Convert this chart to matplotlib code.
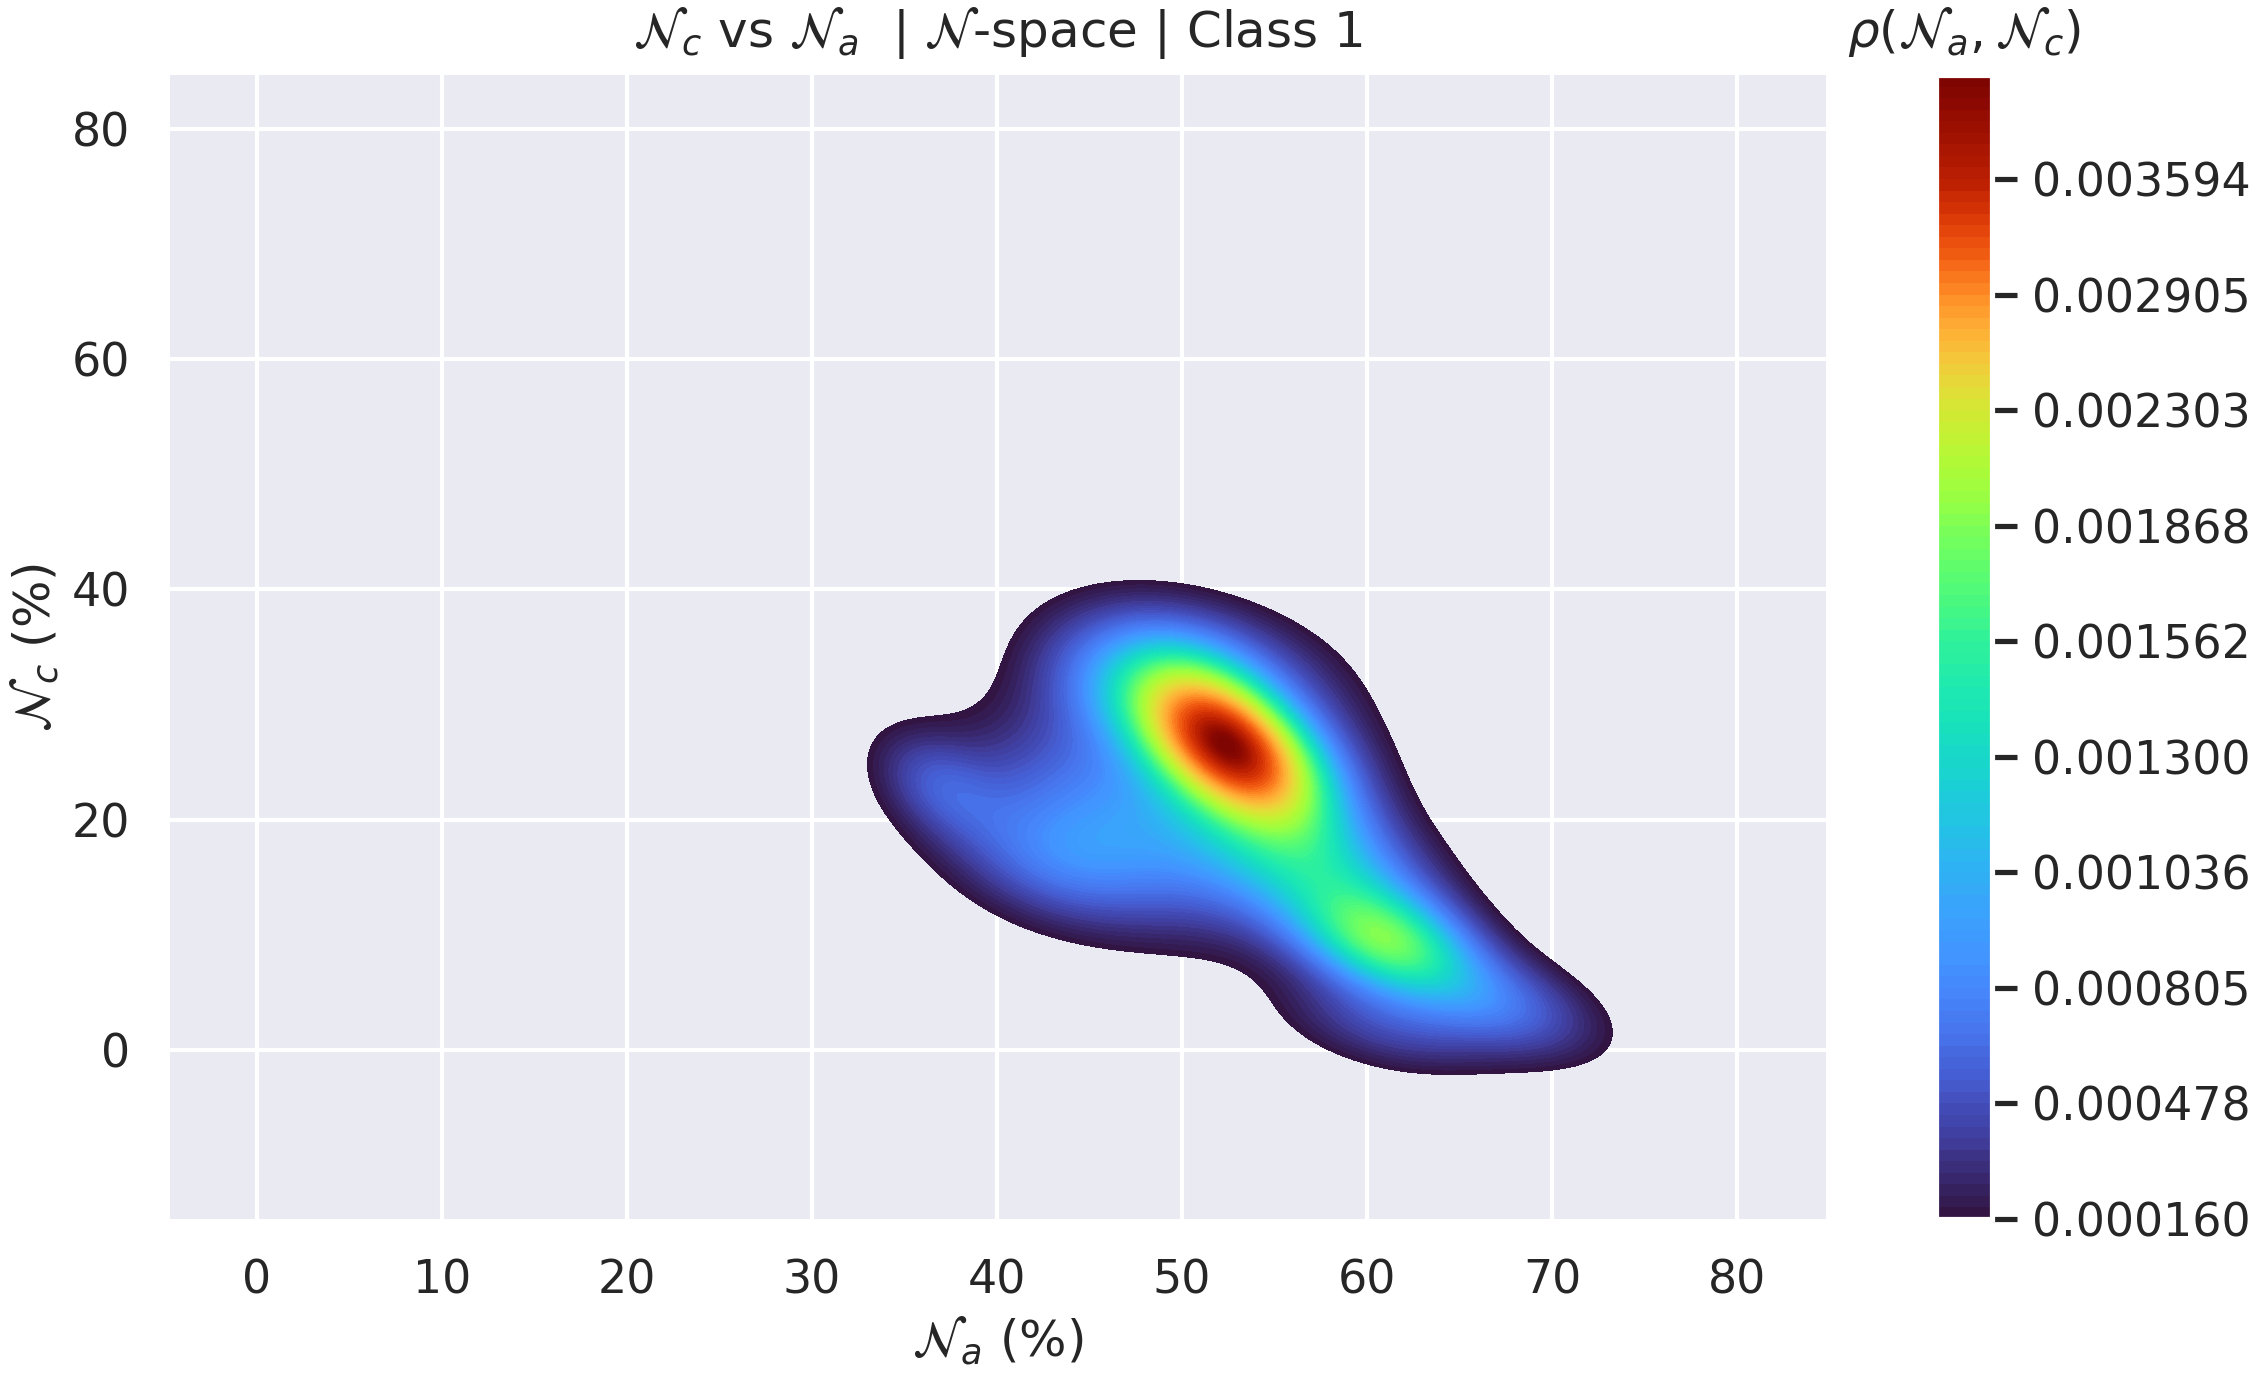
import numpy as np
import matplotlib
matplotlib.use("Agg")
import matplotlib.pyplot as plt
from matplotlib.ticker import FormatStrFormatter

# ---- data ----
# Gaussian mixture summary of the density: centres (N_a, N_c), spreads, correlation, weight
comp_x = [52.5, 47.5, 61.0, 66.5, 36.8, 51.0, 43.0, 57.5, 61.0, 46.0, 58.5]
comp_y = [26.5, 19.5, 9.5, 4.5, 23.0, 34.0, 16.0, 15.5, 2.0, 31.0, 25.0]
comp_sx = [3.3, 6.5, 3.2, 4.0, 2.3, 4.5, 3.5, 4.0, 4.0, 3.2, 2.8]
comp_sy = [4.6, 6.0, 3.2, 3.5, 3.2, 4.0, 3.5, 4.0, 3.0, 4.2, 5.5]
comp_rho = [-0.5, -0.3, -0.3, -0.5, -0.4, -0.3, -0.3, -0.3, -0.4, -0.3, -0.3]
comp_w = [0.29, 0.20, 0.085, 0.05, 0.015, 0.055, 0.022, 0.08, 0.025, 0.036, 0.02]

# colorbar tick values (every 10th contour level)
tick_values = [0.000160, 0.000478, 0.000805, 0.001036, 0.001300,
               0.001562, 0.001868, 0.002303, 0.002905, 0.003594]

x_ticks = [0, 10, 20, 30, 40, 50, 60, 70, 80]
y_ticks = [0, 20, 40, 60, 80]

title = r"$\mathcal{N}_c$ vs $\mathcal{N}_a$  | $\mathcal{N}$-space | Class 1"
xlabel = r"$\mathcal{N}_a$ (%)"
ylabel = r"$\mathcal{N}_c$ (%)"
cbar_title = r"$\rho(\mathcal{N}_a, \mathcal{N}_c)$"

# ---- density on a grid ----
gx = np.linspace(20, 85, 400)
gy = np.linspace(-15, 55, 400)
X, Y = np.meshgrid(gx, gy)
Z = np.zeros_like(X)
for mx, my, sx, sy, r, w in zip(comp_x, comp_y, comp_sx, comp_sy, comp_rho, comp_w):
    dx = (X - mx) / sx
    dy = (Y - my) / sy
    q = (dx**2 - 2 * r * dx * dy + dy**2) / (1 - r**2)
    Z += w * np.exp(-0.5 * q) / (2 * np.pi * sx * sy * np.sqrt(1 - r**2))

zmax = max(Z.max(), tick_values[-1] * 1.05)
levels = np.concatenate(
    [np.linspace(tick_values[i], tick_values[i + 1], 11)[:-1] for i in range(len(tick_values) - 1)]
    + [np.linspace(tick_values[-1], zmax, 10)]
)

# ---- figure ----
text_col = "#262626"
plt.rcParams.update({
    "text.color": text_col,
    "axes.labelcolor": text_col,
    "xtick.color": text_col,
    "ytick.color": text_col,
})

W, H = 2249, 1375
fig = plt.figure(figsize=(W / 200, H / 200), dpi=200)
ax = fig.add_axes([170 / W, 1 - 1219 / H, (1826 - 170) / W, (1219 - 75) / H])
cax = fig.add_axes([1936 / W, 1 - 1219 / H, 56 / W, (1219 - 75) / H])

ax.set_facecolor("#EAEAF2")
ax.set_axisbelow(True)
ax.grid(True, color="white", linewidth=1.5)
for s in ax.spines.values():
    s.set_visible(False)

cs = ax.contourf(X, Y, Z, levels=levels, cmap="turbo", zorder=2)

ax.set_xlim(-4.7, 84.8)
ax.set_ylim(-14.7, 84.7)
ax.set_xticks(x_ticks)
ax.set_yticks(y_ticks)
ax.tick_params(length=0, labelsize=16.5, pad=14.25)
ax.set_xlabel(xlabel, fontsize=18, labelpad=4)
ax.set_ylabel(ylabel, fontsize=18, labelpad=4)
ax.set_title(title, fontsize=18, pad=10)

cb = fig.colorbar(cs, cax=cax, format=FormatStrFormatter("%.6f"))
cb.outline.set_edgecolor("white")
cb.outline.set_linewidth(1.875)
cax.tick_params(length=9, width=1.875, labelsize=16.5, pad=5.25, color=text_col)
cax.set_title(cbar_title, fontsize=18, pad=10)

fig.savefig("out.png", dpi=200)
